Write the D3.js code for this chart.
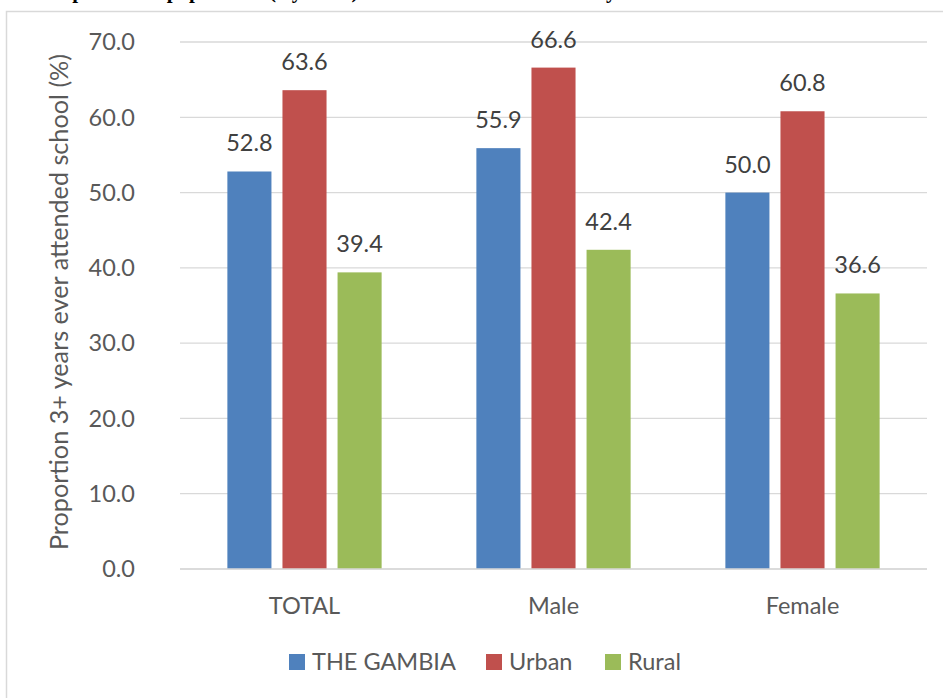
<!DOCTYPE html>
<html><head><meta charset="utf-8">
<script src="https://cdn.jsdelivr.net/npm/d3@7"></script>
<style>body{margin:0;background:#fff}svg{display:block}</style>
</head><body>
<svg id="c" width="943" height="698"></svg>
<script>
const categories = ["TOTAL", "Male", "Female"];
const seriesNames = ["THE GAMBIA", "Urban", "Rural"];
const gambia = [52.8, 55.9, 50.0];
const urban = [63.6, 66.6, 60.8];
const rural = [39.4, 42.4, 36.6];
const yTicks = [0, 10, 20, 30, 40, 50, 60, 70];
const colors = ["#4F81BD", "#C0504D", "#9BBB59"];
const series = [gambia, urban, rural];

const svg = d3.select("#c");
const font = "Lato, 'Open Sans', sans-serif";
const txt = "#595959";
const fs = 23.5;

// clipped title at top (only descenders visible, as in the reference)
svg.append("text").attr("x", 40).attr("y", -2).attr("font-family", "'Liberation Serif', serif")
  .attr("font-weight", "bold").attr("font-size", 21).attr("fill", "#000")
  .text("Proportion of population (3 years+) who ever attended school by sex and residence");

// border
svg.append("rect").attr("x", 6.5).attr("y", 11.5).attr("width", 1000).attr("height", 1000)
  .attr("fill", "none").attr("stroke", "#D9D9D9").attr("stroke-width", 1.5);

const x0 = d3.scaleBand().domain(categories).range([180, 927]).paddingInner(0).paddingOuter(0);
const x1 = d3.scaleBand().domain(seriesNames).range([0, x0.bandwidth()]).paddingInner(0.2).paddingOuter(0.86);
const y = d3.scaleLinear().domain([0, 70]).range([569, 42]);

// grid
svg.append("g").selectAll("line").data(yTicks).join("line")
  .attr("x1", 180).attr("x2", 927).attr("y1", d => y(d)).attr("y2", d => y(d))
  .attr("stroke", "#D9D9D9").attr("stroke-width", 1.3);

// y tick labels
svg.append("g").selectAll("text").data(yTicks).join("text")
  .attr("x", 135).attr("y", d => y(d)).attr("dy", "0.35em").attr("text-anchor", "end")
  .attr("font-family", font).attr("font-size", fs).attr("fill", txt)
  .text(d => d3.format(".1f")(d));

// y title
svg.append("text").attr("transform", "translate(68,302) rotate(-90)").attr("text-anchor", "middle")
  .attr("font-family", font).attr("font-size", 25.2).attr("fill", txt)
  .text("Proportion 3+ years ever attended school (%)");

// bars
const g = svg.append("g");
categories.forEach((c, i) => {
  series.forEach((s, j) => {
    const bx = x0(c) + x1(seriesNames[j]);
    g.append("rect").attr("x", bx).attr("y", y(s[i])).attr("width", x1.bandwidth())
      .attr("height", y(0) - y(s[i])).attr("fill", colors[j]);
    g.append("text").attr("x", bx + x1.bandwidth() / 2).attr("y", y(s[i]) - 20)
      .attr("text-anchor", "middle").attr("font-family", font).attr("font-size", fs).attr("fill", "#404040")
      .text(d3.format(".1f")(s[i]));
  });
});
svg.append("line").attr("x1", 180).attr("x2", 927).attr("y1", y(0)).attr("y2", y(0))
  .attr("stroke", "#D9D9D9").attr("stroke-width", 1.3);

// category labels
svg.append("g").selectAll("text").data(categories).join("text")
  .attr("x", d => x0(d) + x0.bandwidth() / 2).attr("y", 614).attr("text-anchor", "middle")
  .attr("font-family", font).attr("font-size", fs).attr("fill", txt).text(d => d);

// legend
const legX = [289, 486, 605];
const leg = svg.append("g");
seriesNames.forEach((n, j) => {
  leg.append("rect").attr("x", legX[j]).attr("y", 654).attr("width", 16).attr("height", 16).attr("fill", colors[j]);
  leg.append("text").attr("x", legX[j] + 23).attr("y", 670).attr("font-family", font).attr("font-size", fs)
    .attr("fill", txt).text(n);
});
</script>
</body></html>
